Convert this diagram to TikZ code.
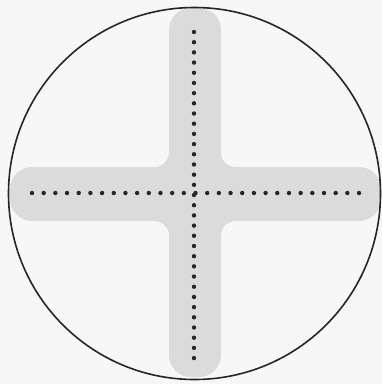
\documentclass[tikz,border=0pt]{standalone}
\begin{document}
\begin{tikzpicture}[x=1pt,y=-1pt,
  barfill/.style={fill=black!14},
  bgfill/.style={fill=black!3},
  dotmark/.style={fill=black!85}]
\path[bgfill] (0,0) rectangle (382,384);
\useasboundingbox (0,0) rectangle (382,384);
% fillets
\foreach \cx/\cy/\sx/\sy in {169/167/-1/-1, 221/167/1/-1, 169/221/-1/1, 221/221/1/1}{
  \path[barfill] (\cx,\cy) rectangle ({\cx+\sx*15},{\cy+\sy*15});
  \path[bgfill] ({\cx+\sx*15},{\cy+\sy*15}) circle (15);
}
% bars
\path[barfill, rounded corners=22] (169,8) rectangle (221,377);
\path[barfill, rounded corners=22] (10,167) rectangle (381,221);
% circle
\node[draw=black!85, line width=1.6pt, circle, minimum size=372pt, inner sep=0pt] (ring) at (194.5,193.5) {};
% dots
\foreach \i in {0,...,28}{ \path[dotmark] ({32+\i*11.68},193) circle (2.2); }
\foreach \i in {0,...,32}{ \path[dotmark] (194,{32+\i*10.19}) circle (2.2); }
\end{tikzpicture}
\end{document}
